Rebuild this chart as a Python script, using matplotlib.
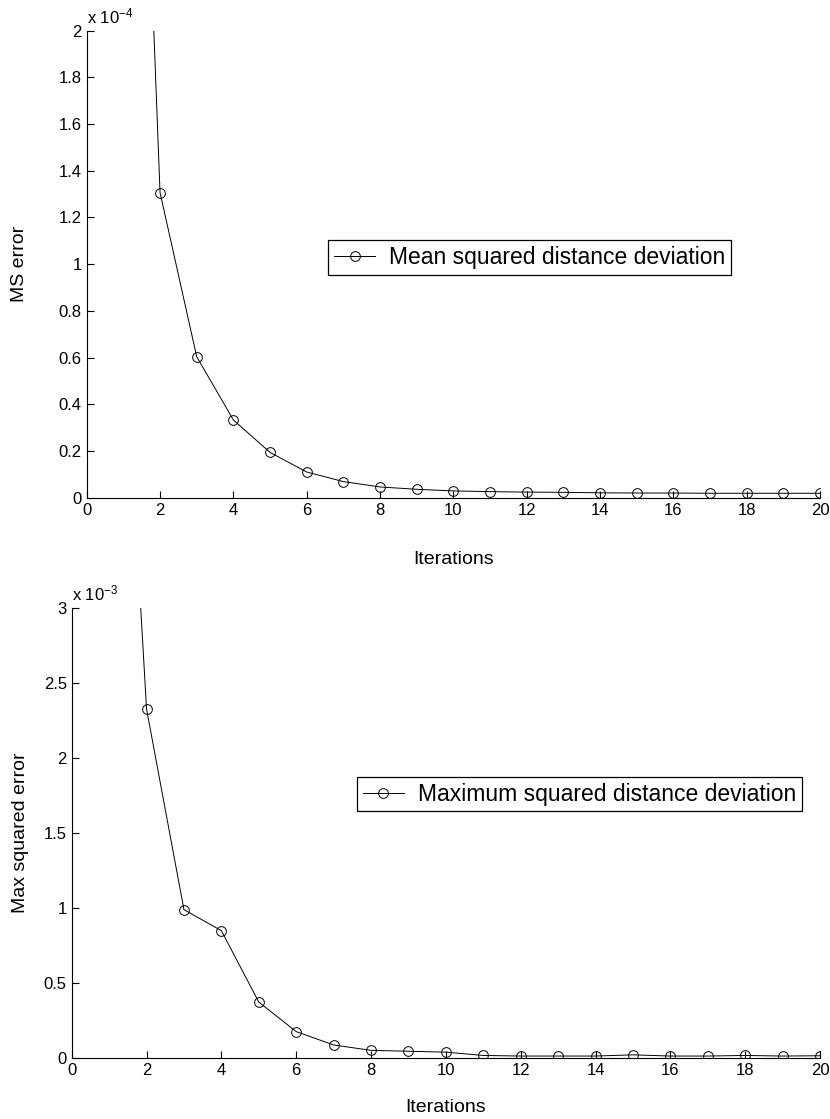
import matplotlib
matplotlib.use("Agg")
import matplotlib.pyplot as plt
from matplotlib.ticker import FuncFormatter

plt.rcParams['font.family'] = ['Liberation Sans', 'DejaVu Sans']
plt.rcParams['mathtext.fontset'] = 'custom'
plt.rcParams['mathtext.rm'] = 'Liberation Sans'
plt.rcParams['mathtext.it'] = 'Liberation Sans:italic'
plt.rcParams['mathtext.default'] = 'regular'

# ---- data ----
iterations = list(range(1, 21))
ms_error = [5.40e-4, 1.307e-4, 0.604e-4, 0.333e-4, 0.194e-4, 0.110e-4, 0.069e-4,
            0.046e-4, 0.036e-4, 0.029e-4, 0.026e-4, 0.024e-4, 0.023e-4, 0.021e-4,
            0.020e-4, 0.020e-4, 0.019e-4, 0.019e-4, 0.019e-4, 0.019e-4]
max_error = [6.67e-3, 2.327e-3, 0.989e-3, 0.849e-3, 0.373e-3, 0.176e-3, 0.087e-3,
             0.051e-3, 0.045e-3, 0.039e-3, 0.017e-3, 0.013e-3, 0.013e-3, 0.013e-3,
             0.021e-3, 0.013e-3, 0.013e-3, 0.017e-3, 0.013e-3, 0.015e-3]
x_ticks = list(range(0, 21, 2))
ms_yticks = [0, 0.2e-4, 0.4e-4, 0.6e-4, 0.8e-4, 1.0e-4, 1.2e-4, 1.4e-4, 1.6e-4, 1.8e-4, 2.0e-4]
max_yticks = [0, 0.5e-3, 1.0e-3, 1.5e-3, 2.0e-3, 2.5e-3, 3.0e-3]

W, H = 830, 1119
fig = plt.figure(figsize=(W / 100, H / 100), dpi=100)


def make_axes(left_px, right_px, top_px, bottom_px):
    return fig.add_axes([left_px / W, 1 - bottom_px / H,
                         (right_px - left_px) / W, (bottom_px - top_px) / H])


def style(ax, scale, exp_txt):
    for s in ('top', 'right'):
        ax.spines[s].set_visible(False)
    for s in ('left', 'bottom'):
        ax.spines[s].set_linewidth(0.8)
    ax.tick_params(direction='in', length=5, width=0.8, labelsize=12,
                   top=False, right=False, pad=3.5)
    ax.yaxis.set_major_formatter(FuncFormatter(lambda v, p: '%g' % round(v / scale, 6)))
    ax.annotate(exp_txt, xy=(0, 1), xycoords='axes fraction',
                xytext=(0, 5.5), textcoords='offset points',
                ha='left', va='baseline', fontsize=12)


# ---- top panel ----
ax1 = make_axes(86.7, 820, 30.7, 497.7)
ax1.plot(iterations, ms_error, color='black', linewidth=0.7, marker='o',
         markersize=7, markerfacecolor='none', markeredgecolor='black',
         markeredgewidth=0.7, label='Mean squared distance deviation')
ax1.set_xlim(0, 20)
ax1.set_ylim(0, 2e-4)
ax1.set_xticks(x_ticks)
ax1.set_yticks(ms_yticks)
style(ax1, 1e-4, 'x 10$^{-4}$')
ax1.set_xlabel('Iterations', fontsize=14)
ax1.set_ylabel('MS error', fontsize=14)
ax1.xaxis.set_label_coords(0.5, -0.1334)
ax1.xaxis.label.set_va('center')
ax1.yaxis.set_label_coords(-0.091, 0.5)
ax1.yaxis.label.set_va('center')
leg1 = ax1.legend(loc='center', bbox_to_anchor=(0.604, 0.5148), fontsize=16.5,
                  frameon=True, fancybox=False, edgecolor='black', framealpha=1,
                  borderpad=0.25, handlelength=1.8, handletextpad=0.6,
                  borderaxespad=0)
leg1.get_frame().set_linewidth(0.9)

# ---- bottom panel ----
ax2 = make_axes(71.7, 820, 608, 1058)
ax2.plot(iterations, max_error, color='black', linewidth=0.7, marker='o',
         markersize=7, markerfacecolor='none', markeredgecolor='black',
         markeredgewidth=0.7, label='Maximum squared distance deviation')
ax2.set_xlim(0, 20)
ax2.set_ylim(0, 3e-3)
ax2.set_xticks(x_ticks)
ax2.set_yticks(max_yticks)
style(ax2, 1e-3, 'x 10$^{-3}$')
ax2.set_xlabel('Iterations', fontsize=14)
ax2.set_ylabel('Max squared error', fontsize=14)
ax2.xaxis.set_label_coords(0.5, -0.109)
ax2.xaxis.label.set_va('center')
ax2.yaxis.set_label_coords(-0.069, 0.5)
ax2.yaxis.label.set_va('center')
leg2 = ax2.legend(loc='center', bbox_to_anchor=(0.6786, 0.5862), fontsize=16.5,
                  frameon=True, fancybox=False, edgecolor='black', framealpha=1,
                  borderpad=0.25, handlelength=1.8, handletextpad=0.6,
                  borderaxespad=0)
leg2.get_frame().set_linewidth(0.9)

fig.savefig('out.png', dpi=100, facecolor='white')
